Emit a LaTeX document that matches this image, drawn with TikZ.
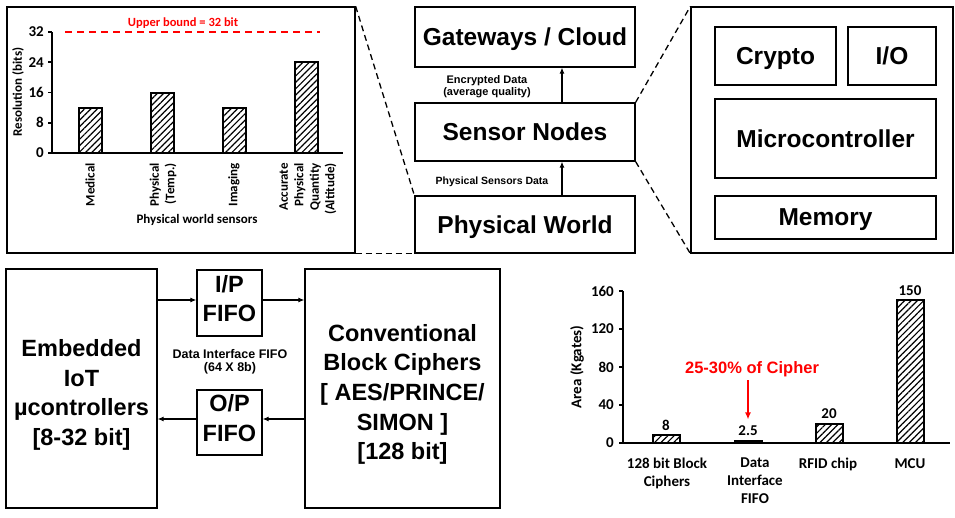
\documentclass[tikz,border=0pt]{standalone}
\usepackage{fontspec}
\setmainfont{Liberation Sans}
\newfontfamily\chartfont{Carlito}
\usetikzlibrary{arrows.meta,patterns.meta}

\begin{document}
\begin{tikzpicture}[x=1pt, y=-1pt, line join=miter,
	block/.style={draw, line width=1.3pt, inner sep=0pt, text depth=0pt, align=center, font=\fontsize{24.5}{30}\selectfont\bfseries},
	bigtext/.style={inner sep=0pt, text depth=0pt, align=center, font=\fontsize{23.5}{29.6}\selectfont\bfseries},
	panel/.style={draw, line width=1.3pt, inner sep=0pt},
	flow/.style={-{Latex[length=6pt,width=5pt]}, line width=1.1pt},
	zoomline/.style={dash pattern=on 6pt off 4pt, line width=1.3pt},
	small/.style={align=center, font=\fontsize{11}{12}\selectfont\bfseries},
	bar/.style={draw, line width=2pt, pattern={Lines[angle=45,distance=4.5pt,line width=1.2pt]}},
	axis/.style={line width=1.8pt},
	tick/.style={inner sep=1pt, font=\chartfont\fontsize{15}{18}\selectfont\bfseries},
	lbl/.style={inner sep=1pt, align=center, font=\chartfont\fontsize{13}{15.5}\selectfont\bfseries}]
	\useasboundingbox (0,0) rectangle (955,518);
	
	% Khung bieu do va khung phan cung
	\node[panel, minimum width=348pt, minimum height=246pt] (sensp) at (181,130) {};
	\node[panel, minimum width=262pt, minimum height=246pt] (hwp) at (822,130) {};
	
	% Chuoi he thong
	\node[block, minimum width=220pt, minimum height=60pt] (gw) at (525,37) {Gateways / Cloud};
	\node[block, minimum width=220pt, minimum height=58pt] (sn) at (525,132) {Sensor Nodes};
	\node[block, minimum width=220pt, minimum height=57pt] (pw) at (525,224.5) {Physical World};
	\coordinate (upx) at (562,0);
	\draw[flow] (sn.north -| upx) -- (gw.south -| upx);
	\draw[flow] (pw.north -| upx) -- (sn.south -| upx);
	\node[small] (enc) at (487,87) {Encrypted Data\\(average quality)};
	\node[small, font=\fontsize{10.5}{12}\selectfont\bfseries] (psd) at (492,182) {Physical Sensors Data};
	
	% Duong phong to
	\draw[zoomline] (sensp.north east) -- (pw.north west);
	\draw[zoomline] (sensp.south east) -- (pw.south west);
	\draw[zoomline] (sn.north east) -- (hwp.north west);
	\draw[zoomline] (sn.south east) -- (hwp.south west);
	
	% Phan cung nut cam bien
	\node[block, minimum width=121pt, minimum height=58pt] (crypto) at (775.5,56) {Crypto};
	\node[block, minimum width=88pt, minimum height=58pt] (io) at (892,56) {I/O};
	\node[block, minimum width=221pt, minimum height=79pt] (mcu) at (825.5,138.5) {Microcontroller};
	\node[block, minimum width=221pt, minimum height=43pt] (mem) at (825.5,217.5) {Memory};
	
	% Bieu do do phan giai
	\begin{scope}[shift={(0,153)}, y=3.78pt]
		\foreach \xc/\v [count=\i] in {90/12, 162/16, 234/12, 306/24}
			\draw[bar] (\xc-11.5,0) rectangle (\xc+11.5,\v);
		\draw[axis] (52,32) -- (52,0) -- (343,0);
		\foreach \v in {0,8,...,32} {
			\draw[axis] (48,\v) -- (52,\v);
			\node[tick, anchor=east] (ry\v) at (45,\v) {\v};
		}
		\draw[red, line width=1.6pt, dash pattern=on 7pt off 5pt] (65,32) -- (320,32);
	\end{scope}
	\node[lbl, text=red, font=\chartfont\fontsize{12.5}{14}\selectfont\bfseries] (ub) at (183,23) {Upper bound = 32 bit};
	\node[lbl, rotate=90] (rylab) at (18,92) {Resolution (bits)};
	\node[lbl, rotate=90, anchor=east, align=right] (s1) at (90,162) {Medical};
	\node[lbl, rotate=90, anchor=east, align=right] (s2) at (163,162) {Physical\\(Temp.)};
	\node[lbl, rotate=90, anchor=east, align=right] (s3) at (234,162) {Imaging};
	\node[lbl, rotate=90, anchor=east, align=right] (s4) at (308,162) {Accurate\\Physical\\Quantity\\(Altitude)};
	\node[lbl] (sxlab) at (197,220) {Physical world sensors};
	
	% Giao tiep vi dieu khien - bo ma hoa
	\node[block, minimum width=151pt, minimum height=239pt] (emb) at (81.5,388.5) {};
	\node[block, minimum width=195pt, minimum height=239pt] (conv) at (402.5,388.5) {};
	\node[block, minimum width=65pt, minimum height=66pt] (ipf) at (229.5,303) {};
	\node[block, minimum width=65pt, minimum height=65pt] (opf) at (229.5,422.5) {};
	\node[bigtext] (embtxt) at (emb.center) [yshift=-4pt] {Embedded\\IoT\\µcontrollers\\{[}8-32 bit{]}};
	\node[bigtext] (convtxt) at (conv.center) [yshift=-3.5pt] {Conventional\\Block Ciphers\\{[} AES/PRINCE/\\SIMON {]}\\{[}128 bit{]}};
	\node[bigtext] (ipftxt) at (ipf.center) [yshift=4.5pt] {I/P\\FIFO};
	\node[bigtext] (opftxt) at (opf.center) [yshift=4.5pt] {O/P\\FIFO};
	\node[small, font=\fontsize{12.5}{12.5}\selectfont\bfseries] (dif) at (230,362) {Data Interface FIFO\\(64 X 8b)};
	\coordinate (topy) at (0,300);
	\coordinate (boty) at (0,419);
	\draw[flow] (emb.east |- topy) -- (ipf.west |- topy);
	\draw[flow] (ipf.east |- topy) -- (conv.west |- topy);
	\draw[flow] (conv.west |- boty) -- (opf.east |- boty);
	\draw[flow] (opf.west |- boty) -- (emb.east |- boty);
	
	% Bieu do dien tich
	\begin{scope}[shift={(0,443)}, y=0.95pt]
		\foreach \xc/\v [count=\i] in {666/8, 748/2.5, 829/20, 910/150} {
			\draw[bar] (\xc-13.5,0) rectangle (\xc+13.5,\v);
			\node[tick, anchor=south] (val\i) at (\xc,\v+4) {\v};
		}
		\draw[axis] (623,160) -- (623,0) -- (950,0);
		\foreach \v in {0,40,...,160} {
			\draw[axis] (619,\v) -- (623,\v);
			\node[tick, anchor=east] (ay\v) at (615,\v) {\v};
		}
	\end{scope}
	\node[tick, rotate=90] (aylab) at (577,367) {Area (Kgates)};
	\node[tick, anchor=north, align=center] (c1) at (667,457) {128 bit Block\\Ciphers};
	\node[tick, anchor=north, align=center] (c2) at (755,457) {Data\\Interface\\FIFO};
	\node[tick, anchor=north, align=center] (c3) at (828,457) {RFID chip};
	\node[tick, anchor=north, align=center] (c4) at (910,457) {MCU};
	\node[text=red, font=\fontsize{16.5}{18}\selectfont\bfseries] (note) at (752,369) {25-30\% of Cipher};
	\draw[red, line width=1.5pt, -{Latex[length=7pt,width=6pt]}] (note.south -| val2.north) -- ([yshift=5pt]val2.north);
\end{tikzpicture}
\end{document}
